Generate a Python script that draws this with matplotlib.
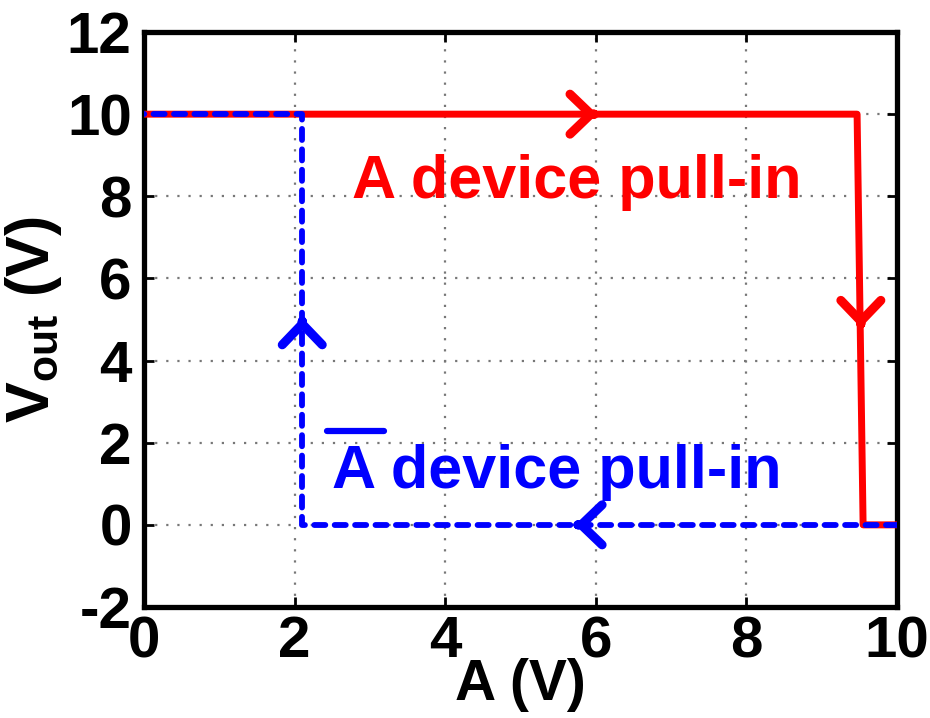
import matplotlib
matplotlib.use('Agg')
import matplotlib.pyplot as plt

plt.rcParams['font.family'] = ['Liberation Sans', 'DejaVu Sans']
plt.rcParams['font.weight'] = 'bold'
plt.rcParams['mathtext.fontset'] = 'custom'
plt.rcParams['mathtext.rm'] = 'Liberation Sans:bold'
plt.rcParams['mathtext.bf'] = 'Liberation Sans:bold'
plt.rcParams['mathtext.default'] = 'bf'

# A device pull-in (sweep up)
red_x = [0, 9.47, 9.55, 10]
red_y = [10, 10, 0, 0]
# A-bar device pull-in (sweep down)
blue_x = [10, 2.1, 2.1, 0]
blue_y = [0, 0, 10, 10]

# direction chevrons: (tip x, tip y, dx, dy)
red_arrows = [(6.02, 10, 1, 0), (9.52, 4.8, 0, -1)]
blue_arrows = [(5.72, 0, -1, 0), (2.1, 5.05, 0, 1)]

xticks = [0, 2, 4, 6, 8, 10]
yticks = [-2, 0, 2, 4, 6, 8, 10, 12]

fig = plt.figure(figsize=(9.3, 7.18), dpi=100)
ax = fig.add_axes([0.155, 0.1546, 0.8095, 0.8008])

ax.plot(red_x, red_y, color='red', lw=5, solid_capstyle='butt', zorder=3)
ax.plot(blue_x, blue_y, color='blue', lw=4.2, linestyle=(0, (1.9, 1.6)),
        dash_capstyle='round', zorder=4)

def chevron(x, y, dx, dy, color):
    ax.annotate('', xy=(x, y), xytext=(x - 0.05 * dx, y - 0.12 * dy),
                arrowprops=dict(arrowstyle='->,head_length=0.75,head_width=0.72',
                                mutation_scale=20, color=color, lw=6.5,
                                capstyle='round', joinstyle='round',
                                shrinkA=0, shrinkB=0),
                zorder=5)

for x, y, dx, dy in red_arrows:
    chevron(x, y, dx, dy, 'red')
for x, y, dx, dy in blue_arrows:
    chevron(x, y, dx, dy, 'blue')

ax.text(2.76, 7.96, 'A device pull-in', color='red', fontsize=44,
        fontweight='bold', va='baseline', ha='left')
ax.text(2.49, 0.9, 'A device pull-in', color='blue', fontsize=44,
        fontweight='bold', va='baseline', ha='left')
# overline on the A
ax.plot([2.43, 3.18], [2.29, 2.29], color='blue', lw=4.5, solid_capstyle='round')

ax.set_xlim(0, 10)
ax.set_ylim(-2, 12)
ax.set_xticks(xticks)
ax.set_yticks(yticks)
ax.set_xticklabels([str(t) for t in xticks])
ax.set_yticklabels([str(t) for t in yticks])
ax.tick_params(direction='in', length=7, width=2, labelsize=42,
               top=True, right=True)
ax.tick_params(axis='y', pad=9)
ax.tick_params(axis='x', pad=6)
for lab in ax.get_xticklabels() + ax.get_yticklabels():
    lab.set_fontweight('bold')

ax.grid(True, color='#777777', linestyle=(0, (1, 4)), lw=1.6)
for s in ax.spines.values():
    s.set_linewidth(3.8)

ax.set_xlabel('A (V)', fontsize=41, fontweight='bold', labelpad=-8)
ax.set_ylabel('V$_{out}$ (V)', fontsize=44, fontweight='bold', labelpad=2)

fig.savefig('out.png', dpi=100)
